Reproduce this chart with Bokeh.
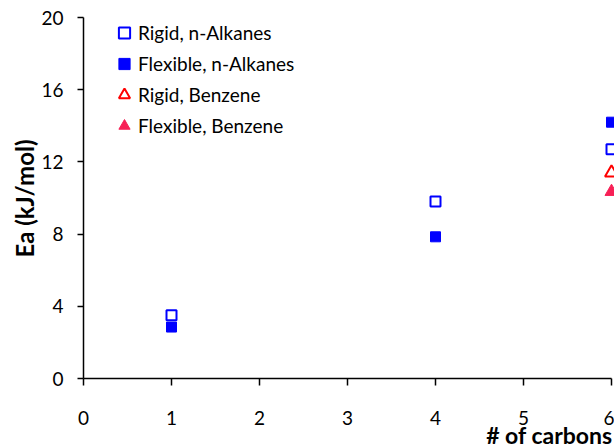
from bokeh.plotting import figure
from bokeh.models import Range1d, FixedTicker, Legend, LegendItem, Label, Title
from bokeh.embed import file_html
from bokeh.resources import INLINE

# data
rigid_alk_x = [1, 4, 6]
rigid_alk_y = [3.5, 9.8, 12.7]
flex_alk_x = [1, 4, 6]
flex_alk_y = [2.85, 7.85, 14.2]
rigid_benz_x = [6]
rigid_benz_y = [11.4]
flex_benz_x = [6]
flex_benz_y = [10.35]
x_ticks = [0, 1, 2, 3, 4, 5, 6]
y_ticks = [0, 4, 8, 12, 16, 20]

FONT = "Lato"
BLUE = "#0000FF"
RED = "#FF0000"
PINK = "#F72056"

W, H = 614, 448
LEFT = 38                     # frame left edge in pixels
X0_PX, Y0_PX = 83, 378        # where the axes cross
Y20_PX = 17                   # pixel row of y = 20
PX_PER_X = 88.0
PX_PER_Y = (Y0_PX - Y20_PX) / 20.0
FRAME_W = W - LEFT
X_MIN = -(X0_PX - LEFT) / PX_PER_X
X_MAX = (W - X0_PX) / PX_PER_X
Y_MIN = -(H - Y0_PX) / PX_PER_Y
Y_MAX = 20 + Y20_PX / PX_PER_Y

p = figure(width=W, height=H, output_backend="svg", toolbar_location=None,
           x_range=Range1d(X_MIN, X_MAX), y_range=Range1d(Y_MIN, Y_MAX),
           min_border_left=LEFT, min_border_right=0, min_border_top=0,
           min_border_bottom=0)
p.outline_line_color = None
p.grid.visible = False
p.background_fill_color = "white"
p.border_fill_color = "white"

r1 = p.scatter(rigid_alk_x, rigid_alk_y, marker="square", size=10, fill_color="white",
               fill_alpha=0, line_color=BLUE, line_width=2)
r2 = p.scatter(flex_alk_x, flex_alk_y, marker="square", size=10, fill_color=BLUE,
               line_color=BLUE, line_width=1)
r3 = p.scatter(rigid_benz_x, rigid_benz_y, marker="triangle", size=13, fill_color="white",
               fill_alpha=0, line_color=RED, line_width=2)
r4 = p.scatter(flex_benz_x, flex_benz_y, marker="triangle", size=13, fill_color=PINK,
               line_color=PINK, line_width=1)

xa = p.xaxis[0]
xa.fixed_location = 0
xa.ticker = FixedTicker(ticks=x_ticks)
xa.bounds = (0, 6)
xa.minor_tick_line_color = None
xa.major_tick_in = 0
xa.major_tick_out = 7
xa.major_label_standoff = 25
xa.major_label_text_font = FONT
xa.major_label_text_font_size = "19px"
xa.major_label_text_color = "black"
xa.axis_line_color = "black"
xa.axis_line_width = 1.5
xa.major_tick_line_width = 1.5

ya = p.yaxis[0]
ya.fixed_location = 0
ya.ticker = FixedTicker(ticks=y_ticks)
ya.bounds = (0, 20)
ya.minor_tick_line_color = None
ya.major_tick_in = 0
ya.major_tick_out = 6
ya.major_label_standoff = 14
ya.major_label_text_font = FONT
ya.major_label_text_font_size = "19px"
ya.major_label_text_color = "black"
ya.axis_line_color = "black"
ya.axis_line_width = 1.5
ya.major_tick_line_width = 1.5

ytitle = Title(text="Ea (kJ/mol)", align="right", offset=139, standoff=0,
               text_font=FONT, text_font_style="bold", text_font_size="24px",
               text_color="black")
p.add_layout(ytitle, "left")

xlabel = Label(x=FRAME_W - 2, y=H - 434, x_units="screen", y_units="screen",
               text="# of carbons", text_align="right", text_baseline="middle",
               text_font=FONT, text_font_style="bold", text_font_size="23px",
               text_color="black")
p.add_layout(xlabel)

legend = Legend(items=[
    LegendItem(label="Rigid, n-Alkanes", renderers=[r1]),
    LegendItem(label="Flexible, n-Alkanes", renderers=[r2]),
    LegendItem(label="Rigid, Benzene", renderers=[r3]),
    LegendItem(label="Flexible, Benzene", renderers=[r4]),
], location=(110 - LEFT, H - Y20_PX - 124), padding=0, margin=0, spacing=0,
    label_height=31, glyph_height=31, glyph_width=28, label_standoff=0,
    border_line_color=None, background_fill_alpha=0,
    label_text_font=FONT, label_text_font_size="19px", label_text_color="black")
p.add_layout(legend, "center")

open("out.html", "w").write(file_html(p, INLINE))
